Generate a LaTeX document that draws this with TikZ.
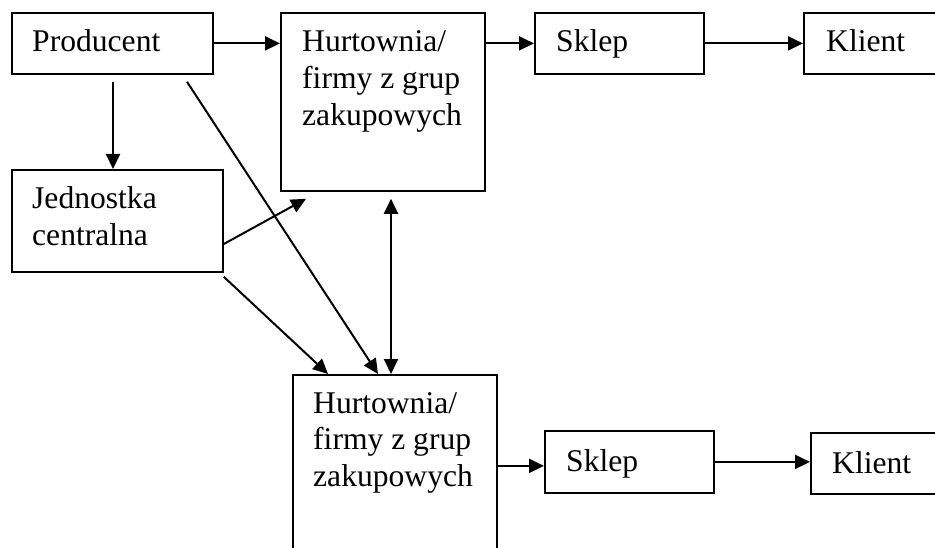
\documentclass[tikz,border=0pt]{standalone}
\usepackage{fontspec}
\setmainfont{Liberation Serif}
\usetikzlibrary{arrows.meta,calc}
\newcommand{\stacklines}[3]{\vtop{\hbox{#1}\hbox{#2}\hbox{#3}}}
\newcommand{\twolines}[2]{\vtop{\hbox{#1}\hbox{#2}}}
\begin{document}
\begin{tikzpicture}[x=1pt,y=-1pt,
  box/.style={draw,line width=1.8pt,anchor=north west,inner sep=0pt,minimum width=#1},
  lbl/.style={anchor=base west,inner sep=0pt,font=\fontsize{31.6}{36.6}\selectfont},
  arr/.style={line width=2pt,-{Triangle[length=15pt,width=14pt]}},
  darr/.style={line width=2pt,{Triangle[length=15pt,width=14pt]}-{Triangle[length=15pt,width=14pt]}}]
\clip (0,0) rectangle (935,548);
\fill[white] (0,0) rectangle (935,548);
% boxes
\node[box=201pt,minimum height=61pt] (prod) at (11,12) {};
\node[box=204pt,minimum height=178pt] (hurta) at (280,12) {};
\node[box=169pt,minimum height=61pt] (sklepa) at (534,12) {};
\node[box=160pt,minimum height=61pt] (klienta) at (803,12) {};
\node[box=211pt,minimum height=102pt] (jedn) at (11,169) {};
\node[box=204pt,minimum height=240pt] (hurtb) at (292,374) {};
\node[box=169pt,minimum height=62pt] (sklepb) at (544,430) {};
\node[box=160pt,minimum height=61pt] (klientb) at (810,432) {};
% labels
\node[lbl] (prodt) at ($(prod.north west)+(21,40)$) {Producent};
\node[lbl] (hurtat) at ($(hurta.north west)+(22,40)$) {\stacklines{Hurtownia/}{firmy z grup}{zakupowych}};
\node[lbl] (sklepat) at ($(sklepa.north west)+(22,40)$) {Sklep};
\node[lbl] (klientat) at ($(klienta.north west)+(23,40)$) {Klient};
\node[lbl] (jednt) at ($(jedn.north west)+(21,40)$) {\twolines{Jednostka}{centralna}};
\node[lbl] (hurtbt) at ($(hurtb.north west)+(21,39)$) {\stacklines{Hurtownia/}{firmy z grup}{zakupowych}};
\node[lbl] (sklepbt) at ($(sklepb.north west)+(22,41)$) {Sklep};
\node[lbl] (klientbt) at ($(klientb.north west)+(22,41)$) {Klient};
% connectors
\coordinate (pd) at ($(prod.south west)+(102,7)$);
\coordinate (pg) at ($(prod.south west)+(176,7)$);
\coordinate (hb) at ($(hurta.south west)+(111,7)$);
\coordinate (ha) at ($(hurta.south west)+(26,7)$);
\coordinate (ja) at ($(jedn.north east)+(0,75)$);
\coordinate (jb) at ($(jedn.south east)+(0,4)$);
\coordinate (sb) at ($(sklepb.west)+(0,4)$);
\draw[arr] (prod.east) -- (prod.east -| hurta.west);
\draw[arr] (sklepa.west -| hurta.east) -- (sklepa.west);
\draw[arr] (sklepa.east) -- (klienta.west);
\draw[arr] (pd) -- (pd |- jedn.north);
\draw[arr] (pg) -- ($(hurtb.north west)+(86,0)$);
\draw[arr] (ja) -- (ha);
\draw[arr] (jb) -- ($(hurtb.north west)+(36,0)$);
\draw[darr] (hb) -- (hb |- hurtb.north);
\draw[arr] (sb -| hurtb.east) -- (sb);
\draw[arr] (sklepb.east) -- (sklepb.east -| klientb.west);
\end{tikzpicture}
\end{document}
